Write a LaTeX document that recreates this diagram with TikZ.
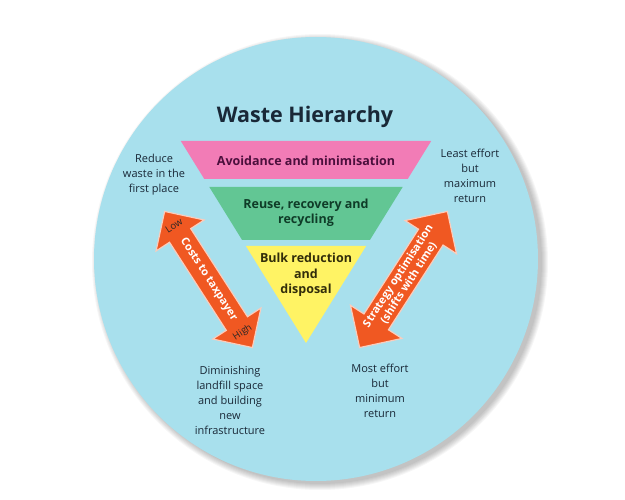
\documentclass[tikz,border=0pt]{standalone}
\usepackage{fontspec}
\setmainfont{Open Sans}
\usetikzlibrary{shapes.arrows,calc}
\definecolor{circleblue}{RGB}{168,224,237}
\definecolor{bandpink}{RGB}{242,124,182}
\definecolor{bandgreen}{RGB}{98,198,148}
\definecolor{bandyellow}{RGB}{255,243,100}
\definecolor{arroworange}{RGB}{240,88,34}
\definecolor{textnavy}{RGB}{25,40,55}
\definecolor{textplum}{RGB}{75,15,60}
\definecolor{textforest}{RGB}{15,60,40}
\definecolor{textolive}{RGB}{50,45,10}

\begin{document}
\begin{tikzpicture}[x=1pt, y=-1pt,
        bandlabel/.style={font=\fontsize{12.5}{15.5}\selectfont\bfseries, align=center},
        sidelabel/.style={font=\fontsize{11}{15}\selectfont, align=center, text=textnavy},
        bigarrow/.style={double arrow, fill=arroworange, draw=arroworange!30!white, line width=1.2pt, double arrow head extend=16pt, inner sep=0pt, inner ysep=12pt, minimum height=162pt},
        arrowtext/.style={font=\fontsize{11}{12.5}\selectfont\bfseries, text=white, align=center},
        endlabel/.style={font=\fontsize{9.5}{11}\selectfont, text=black!85}
    ]
        \useasboundingbox (0,0) rectangle (625,500);
        \fill[white] (0,0) rectangle (625,500);
        
        % Circle with soft shadow
        \foreach \r in {1,...,7} \fill[black, opacity=0.035] (320,262) circle (221+\r);
        \fill[circleblue] (316,259) circle (222);
        
        % Title
        \node[font=\fontsize{21.5}{25}\selectfont\bfseries, text=textnavy] (title) at (305,117) {Waste Hierarchy};
        
        % Pyramid bands
        \fill[bandpink] (180.8,141) -- (431.2,141) -- (407.7,179) -- (204.3,179) -- cycle;
        \fill[bandgreen] (209.3,187) -- (402.7,187) -- (369.9,240) -- (242.1,240) -- cycle;
        \fill[bandyellow] (245.9,246) -- (366.1,246) -- (306,343) -- cycle;
        
        % Band labels
        \node[bandlabel, text=textplum] (avoid) at (306,161) {Avoidance and minimisation};
        \node[bandlabel, text=textforest] (reuse) at (306,213) {Reuse, recovery and\\recycling};
        \node[bandlabel, text=textolive] (bulk) at (306,275) {Bulk reduction\\and\\disposal};
        
        % Side labels
        \node[sidelabel] (reduce) at (154,175) {Reduce\\waste in the\\first place};
        \node[sidelabel] (least) at (470,176) {Least effort\\but\\maximum\\return};
        \node[sidelabel] (diminish) at (230,400) {Diminishing\\landfill space\\and building\\new\\infrastructure};
        \node[sidelabel] (most) at (380,391) {Most effort\\but\\minimum\\return};
        
        % Arrows
        \node[bigarrow, rotate=-57.2] (costs) at (208.5,279.5) {};
        \node[bigarrow, rotate=57.2, inner ysep=14pt] (strategy) at (403.5,279.5) {};
        \node[arrowtext, rotate=-57.2] (coststext) at (costs.center) {Costs to taxpayer};
        \node[arrowtext, rotate=57.2] (strategytext) at (strategy.center) {Strategy optimisation\\(shifts with time)};
        \node[endlabel, rotate=32.8] (low) at ($(costs.west)!0.11!(costs.east)$) {Low};
        \node[endlabel, rotate=32.8] (high) at ($(costs.west)!0.885!(costs.east)$) {High};
        
    \end{tikzpicture}
\end{document}
